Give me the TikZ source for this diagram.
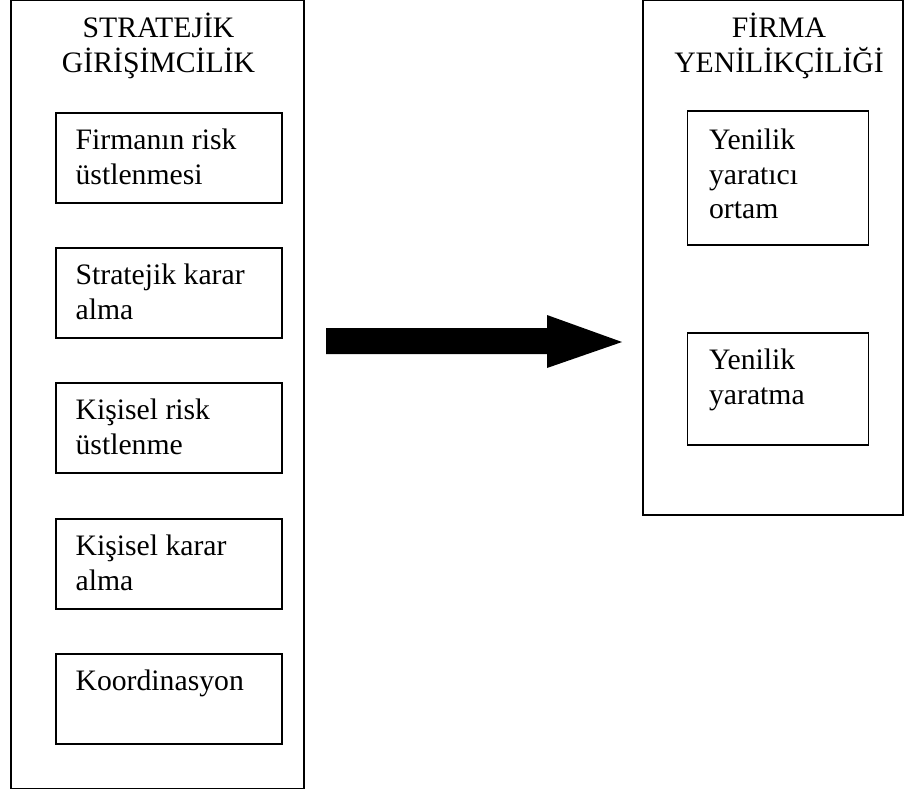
\documentclass[tikz,border=0pt]{standalone}
\usepackage{fontspec}
\setmainfont{Liberation Serif}
% stacked lines whose reference point is the first baseline
\newcommand{\boxlines}[1]{\begin{tabular}[t]{@{}l@{}}#1\end{tabular}}
\newcommand{\titlelines}[1]{\begin{tabular}[t]{@{}c@{}}#1\end{tabular}}
\begin{document}
\begin{tikzpicture}[x=1pt,y=-1pt,
  outerbox/.style={draw, line width=1.3pt, inner sep=0pt},
  itembox/.style={draw, line width=1.2pt, inner sep=0pt},
  boxtext/.style={font=\fontsize{29.7}{34.7}\selectfont, inner sep=0pt, anchor=base west},
  titletext/.style={font=\fontsize{29.7}{35}\selectfont, inner sep=0pt, anchor=base}]
\useasboundingbox (0,0) rectangle (904,795);

% left column: strategic entrepreneurship
\node[outerbox, minimum width=293pt, minimum height=788pt] (se) at (157.5,394.5) {};
\node[titletext] (setitle) at (158.5,37) {\titlelines{STRATEJİK\\GİRİŞİMCİLİK}};
\foreach \name/\top/\txt in {a/113/{Firmanın risk\\üstlenmesi},
                             b/248/{Stratejik karar\\alma},
                             c/383/{Kişisel risk\\üstlenme},
                             d/519/{Kişisel karar\\alma},
                             e/654/{Koordinasyon}} {
  \node[itembox, minimum width=226pt, minimum height=90pt] (\name) at (169,\top+45) {};
  \node[boxtext] (\name t) at ([shift={(20,37)}]\name.north west) {\boxlines{\txt}};
}

% right column: firm innovativeness
\node[outerbox, minimum width=260pt, minimum height=515pt] (fy) at (773,257.5) {};
\node[titletext] (fytitle) at (779,37) {\titlelines{FİRMA\\YENİLİKÇİLİĞİ}};
\node[itembox, minimum width=181pt, minimum height=134pt] (f) at (778,178) {};
\node[boxtext] (ft) at ([shift={(22,39)}]f.north west) {\boxlines{Yenilik\\yaratıcı\\ortam}};
\node[itembox, minimum width=181pt, minimum height=112pt] (g) at (778,389) {};
\node[boxtext] (gt) at ([shift={(22,37)}]g.north west) {\boxlines{Yenilik\\yaratma}};

% block arrow between the two columns
\fill (326,328) -- (547,328) -- (547,315) -- (622,342) -- (547,368) -- (547,354) -- (326,354) -- cycle;
\end{tikzpicture}
\end{document}
